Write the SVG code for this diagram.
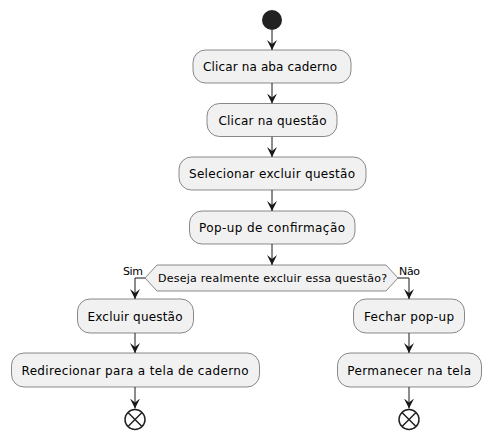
<svg xmlns="http://www.w3.org/2000/svg" width="491" height="437" viewBox="0 0 491 437">
<defs>
<style>
.box{fill:#F1F1F1;stroke:#181818;stroke-width:0.5}
.t{font-family:"DejaVu Sans",sans-serif;font-size:12px;fill:#000;text-anchor:middle}
.s{font-family:"DejaVu Sans",sans-serif;font-size:11px;fill:#000}
.ln{fill:none;stroke:#181818;stroke-width:1}
.end{fill:none;stroke:#222222;stroke-width:1.5}
</style>
<marker id="ah" viewBox="0 0 10 10" refX="10" refY="5" markerWidth="10" markerHeight="10" markerUnits="userSpaceOnUse" orient="auto">
<path d="M0,0 L10,5 L0,10 L4,5 Z" fill="#181818"/>
</marker>
</defs>
<rect width="491" height="437" fill="#FFFFFF"/>
<g id="connectors">
<path class="ln" d="M272,30 V50" marker-end="url(#ah)"/>
<path class="ln" d="M272,83 V103.5" marker-end="url(#ah)"/>
<path class="ln" d="M272,136.5 V157" marker-end="url(#ah)"/>
<path class="ln" d="M272,190 V211" marker-end="url(#ah)"/>
<path class="ln" d="M272,244 V265" marker-end="url(#ah)"/>
<path class="ln" d="M145,278 H135 V299" marker-end="url(#ah)"/>
<path class="ln" d="M398,278 H409 V299" marker-end="url(#ah)"/>
<path class="ln" d="M135,333 V353" marker-end="url(#ah)"/>
<path class="ln" d="M409,333 V353" marker-end="url(#ah)"/>
<path class="ln" d="M135,387 V408.5" marker-end="url(#ah)"/>
<path class="ln" d="M409,387 V408.5" marker-end="url(#ah)"/>
<text class="s" x="123" y="275" textLength="20">Sim</text>
<text class="s" x="399" y="275" textLength="21">Não</text>
</g>
<g id="start"><circle cx="272" cy="20" r="10" fill="#222222"/></g>
<g id="n1"><rect class="box" x="193" y="50" width="158" height="33" rx="12.5"/><text class="t" x="270" y="71" textLength="134">Clicar na aba caderno</text></g>
<g id="n2"><rect class="box" x="207" y="103.5" width="130" height="33" rx="12.5"/><text class="t" x="272.5" y="124.5" textLength="108">Clicar na questão</text></g>
<g id="n3"><rect class="box" x="179" y="157" width="187" height="33" rx="12.5"/><text class="t" x="272" y="178" textLength="166">Selecionar excluir questão</text></g>
<g id="n4"><rect class="box" x="189.5" y="211" width="165.5" height="33" rx="12.5"/><text class="t" x="272" y="232" textLength="146">Pop-up de confirmação</text></g>
<g id="d1"><polygon class="box" points="157,265 386,265 398,278 386,291 157,291 145,278"/><text class="s" x="272.5" y="282" text-anchor="middle" textLength="229">Deseja realmente excluir essa questão?</text></g>
<g id="n5"><rect class="box" x="77.5" y="299" width="116" height="34" rx="12.5"/><text class="t" x="135" y="320.5" textLength="95">Excluir questão</text></g>
<g id="n6"><rect class="box" x="11.5" y="353" width="248" height="34" rx="12.5"/><text class="t" x="135" y="374.5" textLength="227">Redirecionar para a tela de caderno</text></g>
<g id="n7"><rect class="box" x="353.5" y="299" width="111" height="34" rx="12.5"/><text class="t" x="409" y="320.5" textLength="90">Fechar pop-up</text></g>
<g id="n8"><rect class="box" x="337.5" y="353" width="144" height="34" rx="12.5"/><text class="t" x="409.2" y="374.5" textLength="124">Permanecer na tela</text></g>
<g id="end1"><circle class="end" cx="135" cy="419.5" r="10"/><path class="end" d="M128,412.5 L142,426.5 M142,412.5 L128,426.5"/></g>
<g id="end2"><circle class="end" cx="409" cy="419.5" r="10"/><path class="end" d="M402,412.5 L416,426.5 M416,412.5 L402,426.5"/></g>
</svg>
